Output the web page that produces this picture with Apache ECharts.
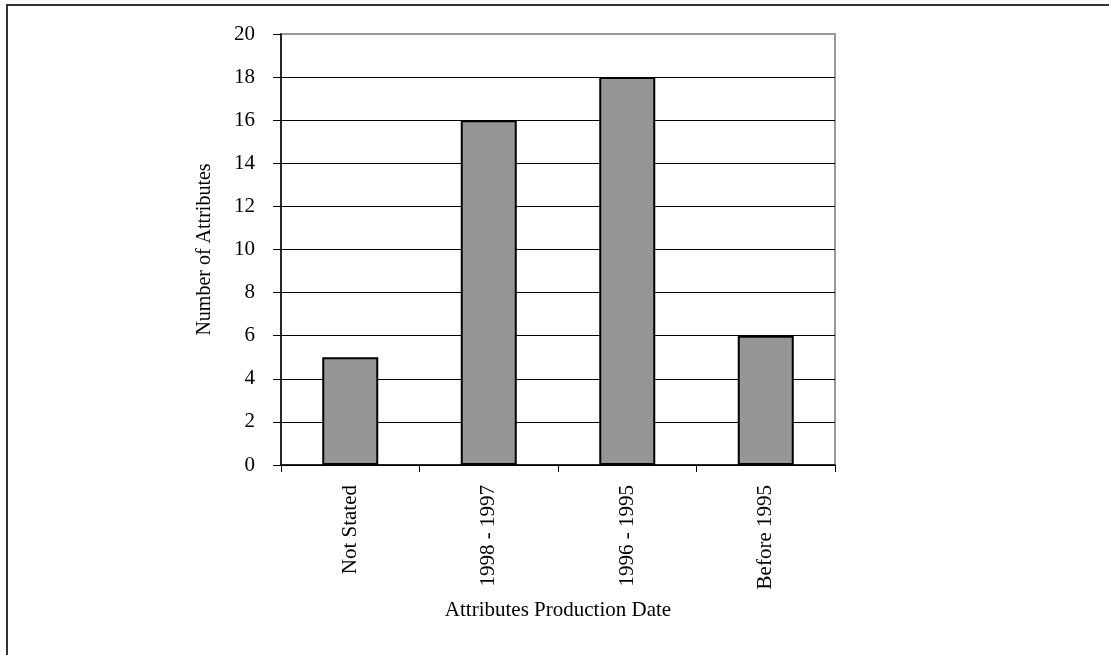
<!DOCTYPE html>
<html>
<head>
<meta charset="utf-8">
<script src="https://cdn.jsdelivr.net/npm/echarts@6/dist/echarts.min.js"></script>
<style>
html,body{margin:0;padding:0;background:#fff;}
#chart{width:1109px;height:655px;}
</style>
</head>
<body>
<div id="chart"></div>
<script>
var categories = ['Not Stated', '1998 - 1997', '1996 - 1995', 'Before 1995'];
var values = [5, 16, 18, 6];
var yTicks = [0, 2, 4, 6, 8, 10, 12, 14, 16, 18, 20];

var FONT = '"Liberation Serif", "Times New Roman", serif';
var FS = 21;
var gridColors = yTicks.map(function (t, i) { return i === yTicks.length - 1 ? '#999999' : '#000000'; });

var chart = echarts.init(document.getElementById('chart'));
chart.setOption({
  animation: false,
  backgroundColor: '#ffffff',
  graphic: [{
    type: 'rect',
    shape: { x: 7, y: 5, width: 1200, height: 800 },
    style: { fill: 'none', stroke: '#333333', lineWidth: 2 },
    silent: true
  }],
  grid: {
    left: 281, top: 34, width: 554, height: 431,
    show: true, borderColor: '#999999', borderWidth: 2
  },
  xAxis: {
    type: 'category',
    data: categories,
    name: 'Attributes Production Date',
    nameLocation: 'middle',
    nameGap: 135,
    nameTextStyle: { fontFamily: FONT, fontSize: FS, color: '#000' },
    axisLine: { lineStyle: { color: '#000', width: 1.5 } },
    axisTick: { show: true, length: 7, lineStyle: { color: '#000' } },
    axisLabel: { rotate: 90, margin: 20, fontFamily: FONT, fontSize: FS, color: '#000' },
    splitLine: { show: false }
  },
  yAxis: {
    type: 'value',
    min: 0, max: 20, interval: 2,
    name: 'Number of Attributes',
    nameLocation: 'middle',
    nameGap: 66,
    nameRotate: 90,
    nameTextStyle: { fontFamily: FONT, fontSize: 20, color: '#000' },
    axisLine: { show: true, lineStyle: { color: '#000', width: 1.5 } },
    axisTick: { show: true, length: 8, lineStyle: { color: '#000' } },
    axisLabel: { margin: 26, fontFamily: FONT, fontSize: FS, color: '#000' },
    splitLine: { show: true, lineStyle: { color: gridColors, width: 1 } }
  },
  series: [{
    type: 'bar',
    data: values,
    barWidth: 56,
    itemStyle: { color: '#969696', borderColor: '#000', borderWidth: 2 }
  }]
});
</script>
</body>
</html>
